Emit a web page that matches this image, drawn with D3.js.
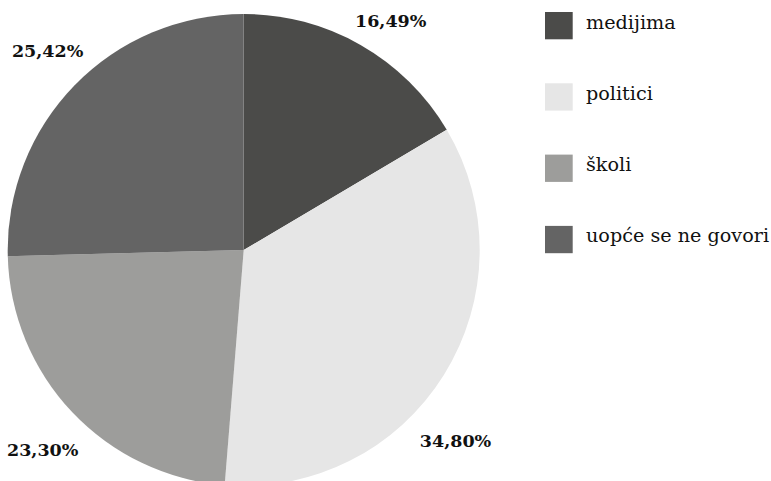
<!DOCTYPE html>
<html>
<head>
<meta charset="utf-8">
<script src="https://cdn.jsdelivr.net/npm/d3@7"></script>
<style>
  body { margin: 0; background: #fff; }
  text { font-family: "DejaVu Serif", serif; }
</style>
</head>
<body>
<div id="chart"></div>
<script>
// Chart data
var categories = ["medijima", "politici", "školi", "uopće se ne govori"];
var values = [16.49, 34.80, 23.30, 25.42];
var labels = ["16,49%", "34,80%", "23,30%", "25,42%"];
var colors = ["#4b4b49", "#e6e6e6", "#9d9d9b", "#646464"];

var width = 771, height = 481;
var cx = 243.7, cy = 250, radius = 236;

var svg = d3.select("#chart")
    .append("svg")
    .attr("width", width)
    .attr("height", height);

var pie = d3.pie().sort(null).value(function(d) { return d; });
var arcs = pie(values);

var arc = d3.arc().innerRadius(0).outerRadius(radius);

var g = svg.append("g")
    .attr("transform", "translate(" + cx + "," + cy + ")");

g.selectAll("path")
    .data(arcs)
    .enter()
    .append("path")
    .attr("d", arc)
    .style("fill", function(d, i) { return colors[i]; });

// Labels placed outside the pie (small angle nudges to match original placement)
var labelRadius = [273, 285, 283, 280];
var labelNudge = [2.9, 10, -1.3, 1.3];
g.selectAll("text.lbl")
    .data(arcs)
    .enter()
    .append("text")
    .attr("class", "lbl")
    .attr("x", function(d, i) {
        var a = (d.startAngle + d.endAngle) / 2 + labelNudge[i] * Math.PI / 180;
        return labelRadius[i] * Math.sin(a);
    })
    .attr("y", function(d, i) {
        var a = (d.startAngle + d.endAngle) / 2 + labelNudge[i] * Math.PI / 180;
        return -labelRadius[i] * Math.cos(a);
    })
    .attr("dy", "0.38em")
    .style("text-anchor", "middle")
    .style("font-weight", "bold")
    .style("font-size", "17.5px")
    .style("fill", "#111")
    .text(function(d, i) { return labels[i]; });

// Legend
var legend = svg.append("g")
    .attr("transform", "translate(545,12)");

var item = legend.selectAll("g")
    .data(categories)
    .enter()
    .append("g")
    .attr("transform", function(d, i) { return "translate(0," + (i * 71.3) + ")"; });

item.append("rect")
    .attr("width", 27.7)
    .attr("height", 27.3)
    .style("fill", function(d, i) { return colors[i]; });

item.append("text")
    .attr("x", 41)
    .attr("y", 16.5)
    .style("font-size", "19.2px")
    .style("fill", "#111")
    .text(function(d) { return d; });
</script>
</body>
</html>
